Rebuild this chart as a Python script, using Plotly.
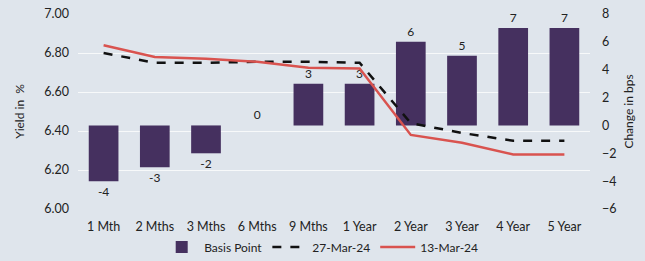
import plotly.graph_objects as go

categories = ["1 Mth", "2 Mths", "3 Mths", "6 Mths", "9 Mths", "1 Year", "2 Year", "3 Year", "4 Year", "5 Year"]
basis_point = [-4, -3, -2, 0, 3, 3, 6, 5, 7, 7]
mar27 = [6.80, 6.75, 6.75, 6.755, 6.755, 6.75, 6.44, 6.39, 6.35, 6.35]
mar13 = [6.84, 6.78, 6.77, 6.755, 6.725, 6.72, 6.38, 6.34, 6.28, 6.28]

font_fam = "Lato, 'Open Sans', sans-serif"

fig = go.Figure()
fig.add_trace(go.Bar(
    x=categories, y=basis_point, name="Basis Point",
    marker=dict(color="#45305f", line=dict(width=0)),
    text=[str(v) for v in basis_point], textposition="outside",
    textfont=dict(size=12, color="#222222", family=font_fam),
    cliponaxis=False, width=0.58, yaxis="y",
))
fig.add_trace(go.Scatter(
    x=categories, y=mar27, name="27-Mar-24", mode="lines",
    line=dict(color="#111111", width=2.5, dash="dash"), yaxis="y2",
))
fig.add_trace(go.Scatter(
    x=categories, y=mar13, name="13-Mar-24", mode="lines",
    line=dict(color="#d9534f", width=2.5), yaxis="y2",
))

fig.update_layout(
    width=645, height=261,
    margin=dict(l=78, r=55, t=14, b=52, autoexpand=False),
    paper_bgcolor="#dfe5ec", plot_bgcolor="rgba(0,0,0,0)",
    font=dict(family=font_fam, size=12.5, color="#222222"),
    showlegend=True,
    legend=dict(orientation="h", x=0.475, xanchor="center", y=-0.12, yanchor="top",
                font=dict(size=12, color="#222222"), bgcolor="rgba(0,0,0,0)",
                traceorder="normal", itemwidth=35),
    xaxis=dict(showgrid=False, showline=False, ticks="", tickfont=dict(size=12.5),
               ticklabelstandoff=8),
    yaxis=dict(side="right", range=[-6, 8], tickvals=[-6, -4, -2, 0, 2, 4, 6, 8],
               showgrid=False, zeroline=False, showline=False, ticks="",
               ticklabelstandoff=11,
               title=dict(text="Change in bps", font=dict(size=12), standoff=9),
               tickfont=dict(size=12.5)),
    yaxis2=dict(side="left", overlaying="y", range=[6.0, 7.0],
                tickvals=[6.0, 6.2, 6.4, 6.6, 6.8, 7.0], tickformat=".2f",
                showgrid=True, gridcolor="rgba(255,255,255,0.75)", gridwidth=1,
                zeroline=False, showline=False, ticks="",
                ticklabelstandoff=8,
                title=dict(text="Yield in  %", font=dict(size=12), standoff=17),
                tickfont=dict(size=12.5)),
    bargap=0.42,
)

fig.write_html("out.html", config={"displayModeBar": False},
               post_script="document.body.style.margin='0';document.body.style.overflow='hidden';")
